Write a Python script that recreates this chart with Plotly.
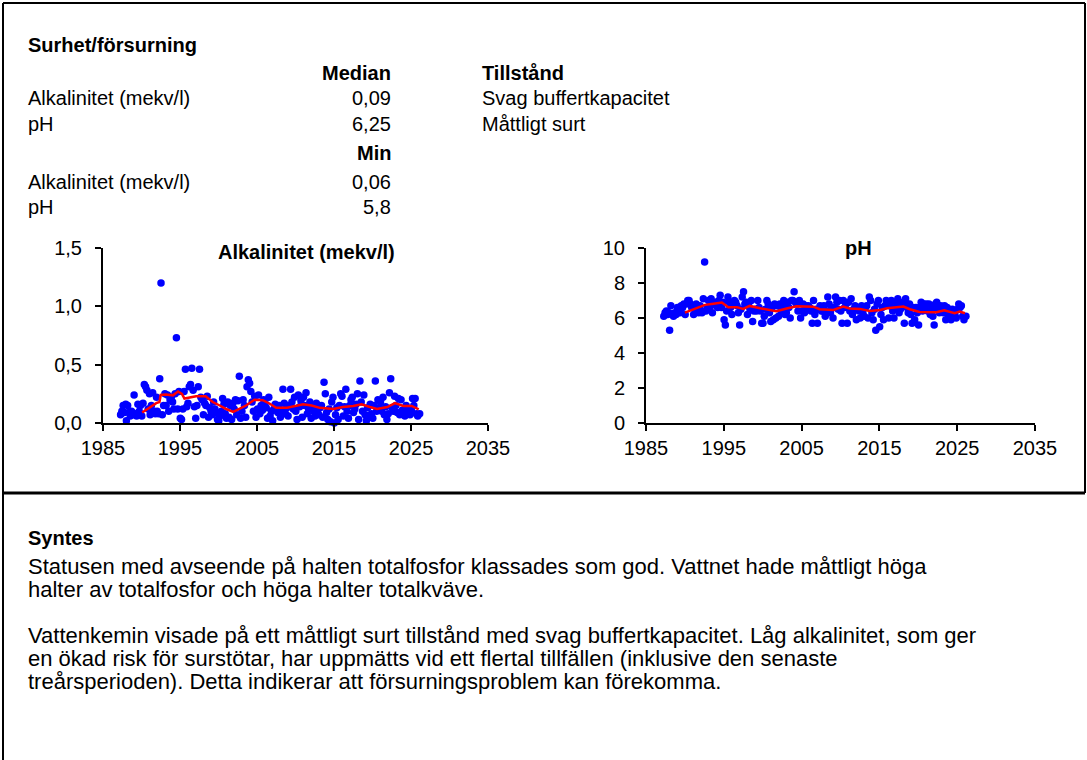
import plotly.graph_objects as go

# ---- Sampling data: one line per year (sampling date, alkalinity mekv/l, pH) ----
sample_dates = [
    "1987-04-15", "1987-06-15", "1987-08-15", "1987-10-15", "1987-12-15",
    "1988-01-15", "1988-03-15", "1988-05-15", "1988-07-15", "1988-09-15", "1988-11-15",
    "1989-01-15", "1989-03-15", "1989-05-15", "1989-07-15", "1989-09-15", "1989-11-15",
    "1990-01-15", "1990-03-15", "1990-05-15", "1990-07-15", "1990-09-15", "1990-11-15",
    "1991-01-15", "1991-02-15", "1991-04-15", "1991-06-15", "1991-08-15", "1991-10-15", "1991-12-15",
    "1992-01-15", "1992-03-15", "1992-05-15", "1992-07-15", "1992-09-15", "1992-11-15",
    "1993-01-15", "1993-03-15", "1993-05-15", "1993-07-15", "1993-09-15", "1993-11-15",
    "1994-01-15", "1994-03-15", "1994-05-15", "1994-07-15", "1994-09-15", "1994-11-15",
    "1995-01-15", "1995-03-15", "1995-05-15", "1995-07-15", "1995-09-15", "1995-11-15",
    "1996-01-15", "1996-03-15", "1996-05-15", "1996-07-15", "1996-09-15", "1996-11-15",
    "1997-01-15", "1997-03-15", "1997-05-15", "1997-07-15", "1997-09-15", "1997-11-15",
    "1998-01-15", "1998-03-15", "1998-05-15", "1998-07-15", "1998-09-15", "1998-11-15",
    "1999-01-15", "1999-03-15", "1999-05-15", "1999-07-15", "1999-09-15", "1999-11-15",
    "2000-01-15", "2000-03-15", "2000-05-15", "2000-07-15", "2000-09-15", "2000-11-15",
    "2001-01-15", "2001-03-15", "2001-05-15", "2001-07-15", "2001-09-15", "2001-11-15",
    "2002-01-15", "2002-03-15", "2002-05-15", "2002-07-15", "2002-09-15", "2002-11-15",
    "2003-01-15", "2003-03-15", "2003-05-15", "2003-07-15", "2003-09-15", "2003-11-15",
    "2004-01-15", "2004-03-15", "2004-05-15", "2004-07-15", "2004-09-15", "2004-11-15",
    "2005-01-15", "2005-03-15", "2005-05-15", "2005-07-15", "2005-09-15", "2005-11-15",
    "2006-01-15", "2006-03-15", "2006-05-15", "2006-07-15", "2006-09-15", "2006-11-15",
    "2007-01-15", "2007-03-15", "2007-05-15", "2007-07-15", "2007-09-15", "2007-11-15",
    "2008-01-15", "2008-03-15", "2008-05-15", "2008-07-15", "2008-09-15", "2008-11-15",
    "2009-01-15", "2009-03-15", "2009-05-15", "2009-07-15", "2009-09-15", "2009-11-15",
    "2010-01-15", "2010-03-15", "2010-05-15", "2010-07-15", "2010-09-15", "2010-11-15",
    "2011-01-15", "2011-03-15", "2011-05-15", "2011-07-15", "2011-09-15", "2011-11-15",
    "2012-01-15", "2012-03-15", "2012-05-15", "2012-07-15", "2012-09-15", "2012-11-15",
    "2013-01-15", "2013-03-15", "2013-05-15", "2013-07-15", "2013-09-15", "2013-11-15",
    "2014-01-15", "2014-03-15", "2014-05-15", "2014-07-15", "2014-09-15", "2014-11-15",
    "2015-01-15", "2015-03-15", "2015-05-15", "2015-07-15", "2015-09-15", "2015-11-15",
    "2016-01-15", "2016-03-15", "2016-05-15", "2016-07-15", "2016-09-15", "2016-11-15",
    "2017-01-15", "2017-03-15", "2017-05-15", "2017-07-15", "2017-09-15", "2017-11-15",
    "2018-01-15", "2018-03-15", "2018-05-15", "2018-07-15", "2018-09-15", "2018-11-15",
    "2019-01-15", "2019-03-15", "2019-05-15", "2019-07-15", "2019-09-15", "2019-11-15",
    "2020-01-15", "2020-03-15", "2020-05-15", "2020-07-15", "2020-09-15", "2020-11-15",
    "2021-01-15", "2021-03-15", "2021-05-15", "2021-07-15", "2021-09-15", "2021-11-15",
    "2022-01-15", "2022-03-15", "2022-05-15", "2022-07-15", "2022-09-15", "2022-11-15",
    "2023-01-15", "2023-03-15", "2023-05-15", "2023-07-15", "2023-09-15", "2023-11-15",
    "2024-01-15", "2024-03-15", "2024-05-15", "2024-07-15", "2024-09-15", "2024-11-15",
    "2025-01-15", "2025-03-15", "2025-05-15", "2025-07-15", "2025-09-15", "2025-11-15",
    "2026-02-15",
]

alkalinity = [
    0.07, 0.10, 0.15, 0.09, 0.16,
    0.02, 0.15, 0.09, 0.06, 0.10, 0.07,
    0.24, 0.08, 0.06, 0.16, 0.10, 0.15,
    0.06, 0.17, 0.33, 0.31, 0.28, 0.12,
    0.25, 0.07, 0.15, 0.26, 0.10, 0.08, 0.22,
    0.10, 0.08, 0.38, 1.20, 0.07, 0.15,
    0.25, 0.15, 0.24, 0.10, 0.20, 0.22,
    0.18, 0.12, 0.25, 0.73, 0.12, 0.27,
    0.04, 0.03, 0.12, 0.27, 0.46, 0.14,
    0.17, 0.31, 0.33, 0.47, 0.28, 0.14,
    0.04, 0.15, 0.31, 0.46, 0.22, 0.20,
    0.07, 0.17, 0.15, 0.23, 0.05, 0.13,
    0.10, 0.07, 0.18, 0.12, 0.09, 0.03,
    0.02, 0.06, 0.10, 0.21, 0.16, 0.08,
    0.04, 0.18, 0.05, 0.15, 0.03, 0.17,
    0.12, 0.20, 0.07, 0.19, 0.40, 0.04,
    0.10, 0.20, 0.15, 0.05, 0.31, 0.37,
    0.34, 0.27, 0.18, 0.10, 0.23, 0.05,
    0.12, 0.24, 0.08, 0.15, 0.11, 0.20,
    0.17, 0.13, 0.04, 0.22, 0.06, 0.10,
    0.02, 0.12, 0.16, 0.11, 0.09, 0.15,
    0.05, 0.10, 0.29, 0.17, 0.08, 0.13,
    0.06, 0.15, 0.29, 0.18, 0.12, 0.22,
    0.10, 0.03, 0.24, 0.14, 0.19, 0.05,
    0.22, 0.15, 0.26, 0.08, 0.12, 0.18,
    0.04, 0.14, 0.10, 0.06, 0.17, 0.11,
    0.07, 0.13, 0.15, 0.05, 0.35, 0.25,
    0.09, 0.03, 0.12, 0.01, 0.18, 0.22,
    0.00, 0.07, 0.13, 0.03, 0.15, 0.25,
    0.23, 0.06, 0.14, 0.29, 0.10, 0.04,
    0.15, 0.20, 0.22, 0.09, 0.12, 0.16,
    0.25, 0.03, 0.36, 0.18, 0.10, 0.24,
    0.07, 0.02, 0.13, 0.05, 0.16, 0.08,
    0.04, 0.15, 0.36, 0.10, 0.20, 0.13,
    0.18, 0.10, 0.22, 0.07, 0.14, 0.03,
    0.08, 0.26, 0.38, 0.13, 0.10, 0.23,
    0.15, 0.09, 0.21, 0.07, 0.20, 0.11,
    0.08, 0.06, 0.15, 0.12, 0.09, 0.07,
    0.11, 0.21, 0.15, 0.21, 0.08, 0.06,
    0.08,
]

ph = [
    6.1, 6.3, 6.4, 6.2, 6.3,
    5.3, 6.7, 6.2, 6.1, 6.3, 6.2,
    6.6, 6.5, 6.3, 6.7, 6.6, 6.8,
    6.2, 6.8, 7.0, 7.0, 6.8, 6.6,
    6.7, 6.2, 6.5, 6.8, 6.6, 6.3, 6.7,
    6.4, 6.3, 7.1, 9.2, 6.4, 6.6,
    7.0, 6.6, 7.1, 6.3, 6.8, 6.9,
    6.7, 6.6, 7.0, 7.3, 6.6, 6.9,
    5.9, 5.6, 6.4, 7.2, 6.9, 6.6,
    6.2, 6.9, 7.0, 6.9, 6.7, 6.3,
    5.6, 6.5, 7.2, 7.5, 6.8, 6.9,
    6.2, 6.7, 6.5, 7.0, 5.8, 6.4,
    6.5, 6.4, 7.0, 6.6, 6.4, 5.7,
    5.7, 6.1, 6.5, 7.0, 6.8, 6.3,
    5.8, 6.6, 5.9, 6.8, 6.0, 6.7,
    6.1, 6.8, 6.4, 6.7, 7.0, 6.2,
    6.3, 6.9, 6.6, 6.0, 7.0, 7.0,
    7.5, 6.9, 6.8, 6.4, 7.0, 6.0,
    6.4, 6.8, 6.3, 6.7, 6.5, 6.7,
    6.6, 6.4, 5.7, 7.0, 6.2, 6.5,
    5.7, 6.5, 6.7, 6.4, 6.4, 6.7,
    6.1, 6.4, 7.2, 6.8, 6.3, 6.6,
    6.0, 6.6, 7.2, 6.9, 6.5, 7.0,
    6.4, 5.7, 7.0, 6.6, 6.8, 5.7,
    6.9, 6.4, 7.1, 6.2, 6.5, 6.7,
    5.9, 6.5, 6.4, 6.0, 6.7, 6.3,
    6.1, 6.6, 6.7, 6.0, 7.2, 7.0,
    6.3, 5.9, 6.5, 5.3, 6.8, 7.0,
    5.5, 6.2, 6.6, 5.9, 6.7, 7.0,
    6.9, 6.0, 6.7, 7.0, 6.4, 6.0,
    6.6, 6.9, 7.1, 6.3, 6.5, 6.7,
    6.9, 5.7, 7.1, 6.6, 6.3, 6.8,
    6.2, 5.7, 6.6, 5.9, 6.6, 6.3,
    5.6, 6.6, 6.9, 6.4, 6.8, 6.5,
    6.8, 6.4, 6.8, 6.2, 6.5, 6.1,
    5.6, 6.8, 6.9, 6.5, 6.3, 6.7,
    6.6, 6.3, 6.7, 5.9, 6.6, 6.2,
    6.1, 5.9, 6.5, 6.4, 6.2, 6.0,
    6.5, 6.8, 6.6, 6.7, 6.1, 5.9,
    6.1,
]

# ---- Running trend lines ----
alk_trend_dates = [
    "1990-02", "1991-12", "1992-05", "1992-07", "1993-03", "1994-02", "1994-10",
    "1995-04", "1995-08", "1996-07", "1997-02", "1998-05", "1999-04", "2000-03",
    "2001-01", "2001-12", "2002-10", "2003-08", "2004-09", "2005-10", "2006-09",
    "2007-07", "2008-12", "2009-09", "2011-01", "2012-02", "2013-03", "2014-12",
    "2016-03", "2017-07", "2018-08", "2019-09", "2020-08", "2021-12", "2022-12",
    "2024-01", "2025-02", "2026-01",
]
alk_trend = [
    0.09, 0.17, 0.18, 0.24, 0.245, 0.237, 0.27,
    0.25, 0.21, 0.22, 0.23, 0.23, 0.18, 0.15,
    0.12, 0.095, 0.12, 0.15, 0.20, 0.195, 0.165,
    0.13, 0.13, 0.14, 0.16, 0.15, 0.13, 0.12,
    0.137, 0.146, 0.16, 0.137, 0.12, 0.137, 0.17,
    0.146, 0.146, 0.117,
]

ph_trend_dates = [
    "1990-01", "1991-06", "1992-08", "1993-09", "1994-10", "1995-08", "1996-09",
    "1997-07", "1998-05", "1999-09", "2001-01", "2001-10", "2003-02", "2004-05",
    "2006-07", "2007-05", "2009-02", "2010-05", "2011-03", "2012-07", "2013-10",
    "2015-02", "2016-01", "2017-03", "2018-02", "2018-12", "2020-03", "2022-05",
    "2023-05", "2024-09", "2025-05", "2026-01",
]
ph_trend = [
    6.31, 6.56, 6.75, 6.81, 6.88, 6.62, 6.62,
    6.52, 6.69, 6.56, 6.46, 6.39, 6.54, 6.67,
    6.65, 6.50, 6.46, 6.65, 6.54, 6.52, 6.40,
    6.46, 6.56, 6.62, 6.65, 6.50, 6.35, 6.33,
    6.44, 6.27, 6.37, 6.27,
]

# ---- Summary table ----
table_params = ["Alkalinitet (mekv/l)", "pH"]
median_values = ["0,09", "6,25"]
min_values = ["0,06", "5,8"]
status_text = ["Svag buffertkapacitet", "Måttligt surt"]

year_ticks = [1985, 1995, 2005, 2015, 2025, 2035]

synthesis_lines = [
    "Statusen med avseende på halten totalfosfor klassades som god. Vattnet hade måttligt höga",
    "halter av totalfosfor och höga halter totalkväve.",
    "",
    "Vattenkemin visade på ett måttligt surt tillstånd med svag buffertkapacitet. Låg alkalinitet, som ger",
    "en ökad risk för surstötar, har uppmätts vid ett flertal tillfällen (inklusive den senaste",
    "treårsperioden). Detta indikerar att försurningsproblem kan förekomma.",
]

# ---- Page geometry (pixels) ----
W, H = 1087, 760
FONT = "Arial, Liberation Sans, sans-serif"
TABLE_SIZE = 20
BODY_SIZE = 22
TICK_SIZE = 20
TITLE_SIZE = 20


def px(x):
    return x / W


def py(y):
    return 1 - y / H


fig = go.Figure()

# Scatter + trend, alkalinity
fig.add_trace(go.Scatter(x=sample_dates, y=alkalinity, mode="markers",
                         marker=dict(color="#0000FF", size=7.5), xaxis="x", yaxis="y",
                         showlegend=False, cliponaxis=False))
fig.add_trace(go.Scatter(x=alk_trend_dates, y=alk_trend, mode="lines",
                         line=dict(color="#FF0000", width=2.5), xaxis="x", yaxis="y",
                         showlegend=False))
# Scatter + trend, pH
fig.add_trace(go.Scatter(x=sample_dates, y=ph, mode="markers",
                         marker=dict(color="#0000FF", size=7.5), xaxis="x2", yaxis="y2",
                         showlegend=False, cliponaxis=False))
fig.add_trace(go.Scatter(x=ph_trend_dates, y=ph_trend, mode="lines",
                         line=dict(color="#FF0000", width=2.5), xaxis="x2", yaxis="y2",
                         showlegend=False))

tickvals = [f"{y}-01-01" for y in year_ticks]
ticktext = [str(y) for y in year_ticks]
axis_common = dict(showline=True, linecolor="black", linewidth=2, ticks="outside",
                   ticklen=6, tickwidth=2, tickcolor="black", showgrid=False,
                   zeroline=False, automargin=False,
                   tickfont=dict(family=FONT, size=TICK_SIZE, color="black"))

y_dom = [py(423), py(248)]
fig.update_layout(
    width=W, height=H, autosize=False,
    margin=dict(l=0, r=0, t=0, b=0, pad=0, autoexpand=False),
    paper_bgcolor="white", plot_bgcolor="white",
    separators=", ",
    xaxis=dict(domain=[px(103), px(488)], type="date", range=[tickvals[0], tickvals[-1]],
               tickvals=tickvals, ticktext=ticktext, anchor="y", **axis_common),
    yaxis=dict(domain=y_dom, range=[0, 1.5], tickvals=[0, 0.5, 1.0, 1.5],
               tickformat=".1f", anchor="x", ticklabelstandoff=9, **axis_common),
    xaxis2=dict(domain=[px(646), px(1035)], type="date", range=[tickvals[0], tickvals[-1]],
                tickvals=tickvals, ticktext=ticktext, anchor="y2", **axis_common),
    yaxis2=dict(domain=y_dom, range=[0, 10], tickvals=[0, 2, 4, 6, 8, 10],
                anchor="x2", ticklabelstandoff=9, **axis_common),
    font=dict(family=FONT, size=TABLE_SIZE, color="black"),
)

annotations = []


def text(x, y, s, anchor="left", bold=False, size=TABLE_SIZE):
    annotations.append(dict(
        x=px(x), y=py(y), xref="paper", yref="paper", showarrow=False,
        text=f"<b>{s}</b>" if bold else s, xanchor=anchor, yanchor="middle",
        font=dict(family=FONT, size=size, color="black"),
    ))


# Summary table
text(26, 45, "Surhet/försurning", bold=True)
text(393, 73, "Median", anchor="right", bold=True)
text(480, 73, "Tillstånd", bold=True)
row_y = [98, 124]
for name, med, stat, y in zip(table_params, median_values, status_text, row_y):
    text(26, y, name)
    text(393, y, med, anchor="right")
    text(480, y, stat)
text(393, 153, "Min", anchor="right", bold=True)
row_y2 = [182, 207]
for name, mn, y in zip(table_params, min_values, row_y2):
    text(26, y, name)
    text(393, y, mn, anchor="right")

# Chart titles
text(306, 252, "Alkalinitet (mekv/l)", anchor="center", bold=True, size=TITLE_SIZE)
text(858, 248, "pH", anchor="center", bold=True, size=TITLE_SIZE)

# Synthesis text
text(26, 538, "Syntes", bold=True, size=20)
line_y = [566, 589, 612, 635, 658, 681]
for s, y in zip(synthesis_lines, line_y):
    if s:
        text(26, y, s, size=BODY_SIZE)

fig.update_layout(annotations=annotations)

# Frame lines
frame = [
    (3, 3, 1085, 3, 2),
    (3, 3, 3, 760, 2),
    (1085, 3, 1085, 493, 2),
    (3, 493, 1085, 493, 3),
]
fig.update_layout(shapes=[
    dict(type="line", xref="paper", yref="paper", x0=px(a), y0=py(b), x1=px(c), y1=py(d),
         line=dict(color="black", width=w))
    for a, b, c, d, w in frame
])

fig.write_html("out.html")
